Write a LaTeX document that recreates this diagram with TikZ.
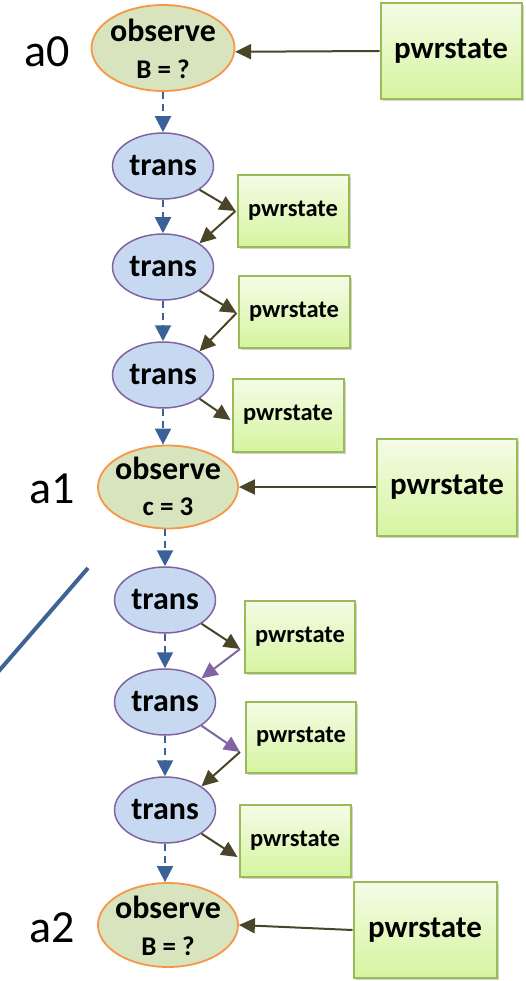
\documentclass[tikz,border=0pt]{standalone}
\usepackage{fontspec}
\setmainfont{Carlito}
\usetikzlibrary{arrows.meta,shapes.geometric,shadows}

\definecolor{obsfill}{HTML}{D7E4BD}
\definecolor{obsline}{HTML}{F79646}
\definecolor{trfill}{HTML}{C6D9F1}
\definecolor{trline}{HTML}{8064A2}
\definecolor{pwtop}{HTML}{F4FCE6}
\definecolor{pwbot}{HTML}{D6F4A0}
\definecolor{pwline}{HTML}{9BBB59}
\definecolor{darkarr}{HTML}{4A4528}
\definecolor{chainblue}{HTML}{3A6299}
\definecolor{slashblue}{HTML}{3D6494}

\tikzset{
  obsbox/.style={ellipse, draw=obsline, fill=obsfill, line width=1.8pt,
    inner sep=0pt},
  transbox/.style={ellipse, draw=trline, fill=trfill, line width=1.5pt,
    minimum width=101pt, minimum height=66pt, inner sep=0pt,
    font=\fontsize{32}{34}\selectfont\bfseries},
  pwrbox/.style={rectangle, draw=pwline, line width=2pt,
    top color=pwtop, bottom color=pwbot,
    drop shadow={shadow xshift=2pt, shadow yshift=-2pt, opacity=0.35},
    inner sep=0pt},
  bigpwr/.style={pwrbox, font=\fontsize{31}{33}\selectfont\bfseries},
  smallpwr/.style={pwrbox, minimum width=111pt, minimum height=72pt,
    font=\fontsize{24.5}{26}\selectfont\bfseries},
  obstop/.style={anchor=base, inner sep=0pt, font=\fontsize{32}{34}\selectfont\bfseries},
  obsbot/.style={anchor=base, inner sep=0pt, font=\fontsize{27}{29}\selectfont\bfseries},
  steplabel/.style={anchor=base west, inner sep=0pt, font=\fontsize{46}{48}\selectfont},
  chain/.style={chainblue, line width=2pt, dash pattern=on 7pt off 5pt,
    -{Triangle[length=16pt,width=16pt]}},
  feed/.style={darkarr, line width=2pt, -{Triangle[length=16pt,width=15pt]}},
  feedp/.style={trline, line width=2pt, -{Triangle[length=16pt,width=15pt]}},
}

\begin{document}
\begin{tikzpicture}[x=1pt, y=-1pt]
\useasboundingbox (0,0) rectangle (526,981);

% observation nodes with their two lines of text
\node[obsbox, minimum width=143pt, minimum height=86pt] (obs0) at (163,48) {};
\node[obstop] (obs0a) at (163,42) {observe};
\node[obsbot] (obs0b) at (163,79) {B = ?};

\node[obsbox, minimum width=140pt, minimum height=83pt] (obs1) at (168,487) {};
\node[obstop] (obs1a) at (168,479) {observe};
\node[obsbot] (obs1b) at (168,515) {c = 3};

\node[obsbox, minimum width=140pt, minimum height=84pt] (obs2) at (168,925) {};
\node[obstop] (obs2a) at (168,918) {observe};
\node[obsbot] (obs2b) at (168,955) {B = ?};

% step labels
\node[steplabel] (la0) at (24,67) {a0};
\node[steplabel] (la1) at (29,503) {a1};
\node[steplabel] (la2) at (29,942) {a2};

% large power-state boxes
\node[bigpwr, minimum width=141pt, minimum height=96pt] (pwr0) at (451,51) {pwrstate};
\node[bigpwr, minimum width=140pt, minimum height=97pt] (pwr1) at (447,487) {pwrstate};
\node[bigpwr, minimum width=143pt, minimum height=96pt] (pwr2) at (425,930) {pwrstate};

% transition nodes
\node[transbox] (tr1) at (163,166) {trans};
\node[transbox] (tr2) at (163,267) {trans};
\node[transbox] (tr3) at (163,375) {trans};
\node[transbox] (tr4) at (165,600) {trans};
\node[transbox] (tr5) at (165,702) {trans};
\node[transbox] (tr6) at (165,810) {trans};

% small power-state boxes
\node[smallpwr] (pA) at (293,211) {pwrstate};
\node[smallpwr, minimum height=71pt] (pB) at (294,312) {pwrstate};
\node[smallpwr, minimum height=73pt] (pC) at (288,415) {pwrstate};
\node[smallpwr, minimum width=110pt] (pD) at (300,637) {pwrstate};
\node[smallpwr, minimum width=110pt, minimum height=71pt] (pE) at (301,737) {pwrstate};
\node[smallpwr] (pF) at (295,841) {pwrstate};

% dashed chain, kept vertical
\draw[chain] (obs0.south -| tr1.north) -- (tr1.north);
\draw[chain] (tr1.south) -- (tr2.north);
\draw[chain] (tr2.south) -- (tr3.north);
\draw[chain] (tr3.south) -- (tr3.south |- obs1.north);
\draw[chain] (obs1.south -| tr4.north) -- (tr4.north);
\draw[chain] (tr4.south) -- (tr5.north);
\draw[chain] (tr5.south) -- (tr6.north);
\draw[chain] (tr6.south) -- (tr6.south |- obs2.north);

% observations fed by power state
\draw[feed] (pwr0.west) -- (obs0.-3);
\draw[feed] (pwr1.west) -- (obs1.east);
\draw[feed] (pwr2.west) -- (obs2.east);

% transitions to and from power state
\coordinate (pAin) at ([xshift=-1pt]pA.west);
\coordinate (pBin) at ([xshift=-1pt,yshift=-1pt]pB.west);
\coordinate (pCin) at ([xshift=-1pt,yshift=-5pt]pC.west);
\coordinate (pDin) at ([xshift=-4pt,yshift=-12pt]pD.west);
\coordinate (pEin) at ([xshift=-5pt,yshift=-15pt]pE.west);
\coordinate (pFin) at ([xshift=-1pt,yshift=-16pt]pF.west);

\draw[feed] (tr1.-33) -- (pAin);
\draw[feed] (pAin) -- (tr2.33);
\draw[feed] (tr2.-33) -- (pBin);
\draw[feed] (pBin) -- (tr3.33);
\draw[feed] (tr3.-33) -- (pCin);
\draw[feed] (tr4.-33) -- (pDin);
\draw[feedp] (pDin) -- (tr5.33);
\draw[feedp] (tr5.-33) -- (pEin);
\draw[feed] (pEin) -- (tr6.33);
\draw[feed] (tr6.-33) -- (pFin);

% slash on the left
\coordinate (slashtop) at (88,568);
\coordinate (slashbot) at (-2,672);
\draw[slashblue, line width=4pt] (slashtop) -- (slashbot);
\end{tikzpicture}
\end{document}
